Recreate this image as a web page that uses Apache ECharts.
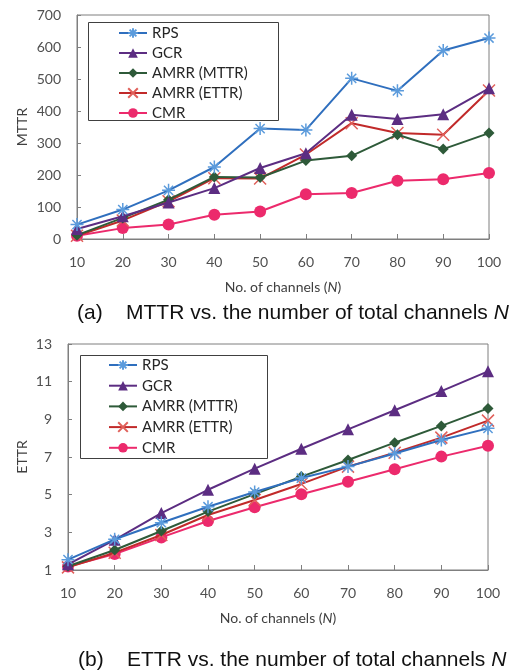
<!DOCTYPE html>
<html><head><meta charset="utf-8">
<script src="https://cdn.jsdelivr.net/npm/echarts@6/dist/echarts.min.js"></script>
<style>html,body{margin:0;padding:0;background:#fff}#c{width:517px;height:670px}</style>
</head><body><div id="c"></div>
<script>
const channels = ['10','20','30','40','50','60','70','80','90','100'];
const seriesNames = ['RPS','GCR','AMRR (MTTR)','AMRR (ETTR)','CMR'];
const mttrRPS  = [45, 92, 152, 225, 345, 341, 502, 463, 589, 628];
const mttrGCR  = [31, 71, 114, 159, 222, 268, 388, 375, 390, 471];
const mttrAMRRm = [12, 66, 123, 194, 192, 245, 260, 326, 281, 331];
const mttrAMRRe = [10, 58, 118, 190, 189, 264, 362, 331, 326, 464];
const mttrCMR  = [10, 34, 45, 76, 86, 140, 144, 182, 187, 206];
const ettrRPS  = [1.55, 2.63, 3.51, 4.36, 5.14, 5.88, 6.49, 7.19, 7.9, 8.52];
const ettrGCR  = [1.3, 2.6, 4.02, 5.26, 6.38, 7.44, 8.47, 9.48, 10.5, 11.55];
const ettrAMRRm = [1.2, 2.06, 3.07, 4.1, 5.03, 5.96, 6.84, 7.76, 8.65, 9.58];
const ettrAMRRe = [1.14, 1.92, 2.86, 3.92, 4.72, 5.57, 6.49, 7.23, 8.03, 8.93];
const ettrCMR  = [1.18, 1.85, 2.73, 3.6, 4.33, 5.02, 5.69, 6.35, 7.02, 7.6];
const mttrTicks = [0, 700, 100];
const ettrTicks = [1, 13, 2];

const FONT = 'Lato';
const star = 'path://M0,-10L0,10M-10,0L10,0M-7.07,-7.07L7.07,7.07M-7.07,7.07L7.07,-7.07';
const cross = 'path://M-10,-10L10,10M-10,10L10,-10';
const styles = [
  {line:'#2f6fbe', mk:'#5b9bdc', symbol:star, size:13, stroke:true},
  {line:'#5c2d82', mk:'#5c2d82', symbol:'triangle', size:12},
  {line:'#2e5a39', mk:'#2e5a39', symbol:'diamond', size:11},
  {line:'#c12a2a', mk:'#e0605a', symbol:cross, size:12, stroke:true},
  {line:'#ec2a6c', mk:'#ec2a6c', symbol:'circle', size:12}
];
const topData = [mttrRPS, mttrGCR, mttrAMRRm, mttrAMRRe, mttrCMR];
const botData = [ettrRPS, ettrGCR, ettrAMRRm, ettrAMRRe, ettrCMR];

function mk(idx, data, axis){
  const s = styles[idx];
  return {
    name: seriesNames[idx], type:'line', xAxisIndex:axis, yAxisIndex:axis,
    data: data, symbol: s.symbol, symbolSize: s.size, showAllSymbol:true,
    z: 10 - idx,
    lineStyle:{color:s.line, width:2},
    itemStyle: s.stroke ? {color:'rgba(0,0,0,0)', borderColor:s.mk, borderWidth:1.5} : {color:s.mk, borderWidth:0},
    emphasis:{disabled:true}, animation:false
  };
}
const series = [];
topData.forEach((d,i)=>series.push(mk(i,d,0)));
botData.forEach((d,i)=>series.push(mk(i,d,1)));

const axisLine = {show:true, lineStyle:{color:'#7f7f7f', width:1}};
const label = {color:'#505050', fontFamily:FONT, fontSize:14};
function xAx(gi){
  return {type:'category', gridIndex:gi, data:channels, boundaryGap:false,
    axisLine:axisLine, axisTick:{show:true, inside:true, length:5, lineStyle:{color:'#7f7f7f'}},
    axisLabel:Object.assign({margin:16, interval:0}, label),
    splitLine:{show:false},
    name:'No. of channels ({i|N})', nameLocation:'middle', nameGap:41,
    nameTextStyle:{color:'#404040', fontFamily:FONT, fontSize:14, rich:{i:{fontStyle:'italic', fontFamily:FONT, fontSize:14, color:'#404040'}}}
  };
}
function yAx(gi, t, nm, gap){
  return {type:'value', gridIndex:gi, min:t[0], max:t[1], interval:t[2],
    axisLine:axisLine, axisTick:{show:true, inside:true, length:4, lineStyle:{color:'#7f7f7f'}},
    axisLabel:Object.assign({margin:16}, label), splitLine:{show:false},
    name:nm, nameLocation:'middle', nameGap:gap, nameRotate:90, nameMoveOverlap:false,
    nameTextStyle:{color:'#404040', fontFamily:FONT, fontSize:14}
  };
}
const legendText = {color:'#262626', fontFamily:FONT, fontSize:15, lineHeight:20};
const capStyle = {fontFamily:'Liberation Sans', fontSize:21, fontWeight:'normal', color:'#111',
  rich:{i:{fontStyle:'italic', fontFamily:'Liberation Sans', fontSize:21, color:'#111'}}};
const chart = echarts.init(document.getElementById('c'), null, {renderer:'canvas'});
chart.setOption({
  animation:false,
  backgroundColor:'#fff',
  grid:[
    {left:77, top:15, width:412, height:224, show:true, borderColor:'#7f7f7f', borderWidth:1, backgroundColor:'transparent'},
    {left:68, top:344, width:420, height:226, show:true, borderColor:'#7f7f7f', borderWidth:1, backgroundColor:'transparent'}
  ],
  xAxis:[xAx(0), xAx(1)],
  yAxis:[yAx(0, mttrTicks, 'MTTR', 48), yAx(1, ettrTicks, 'ETTR', 39)],
  legend:[
    {left:113, top:18, orient:'vertical', itemWidth:28, itemHeight:12, itemGap:0, data:seriesNames, textStyle:legendText, selectedMode:false, z:10},
    {left:103, top:350, orient:'vertical', itemWidth:28, itemHeight:12, itemGap:0.7, data:seriesNames, textStyle:legendText, selectedMode:false, z:10}
  ],
  title:[
    {text:'(a)    MTTR vs. the number of total channels {i|N}', left:72, top:298, textStyle:capStyle},
    {text:'(b)    ETTR vs. the number of total channels {i|N}', left:73, top:645, textStyle:capStyle}
  ],
  graphic:[
    {type:'rect', left:88, top:22, shape:{width:190, height:98}, style:{fill:'#fff', stroke:'#404040', lineWidth:1}, z:3},
    {type:'rect', left:80, top:355, shape:{width:187, height:103}, style:{fill:'#fff', stroke:'#404040', lineWidth:1}, z:3}
  ],
  series: series
});
</script></body></html>
